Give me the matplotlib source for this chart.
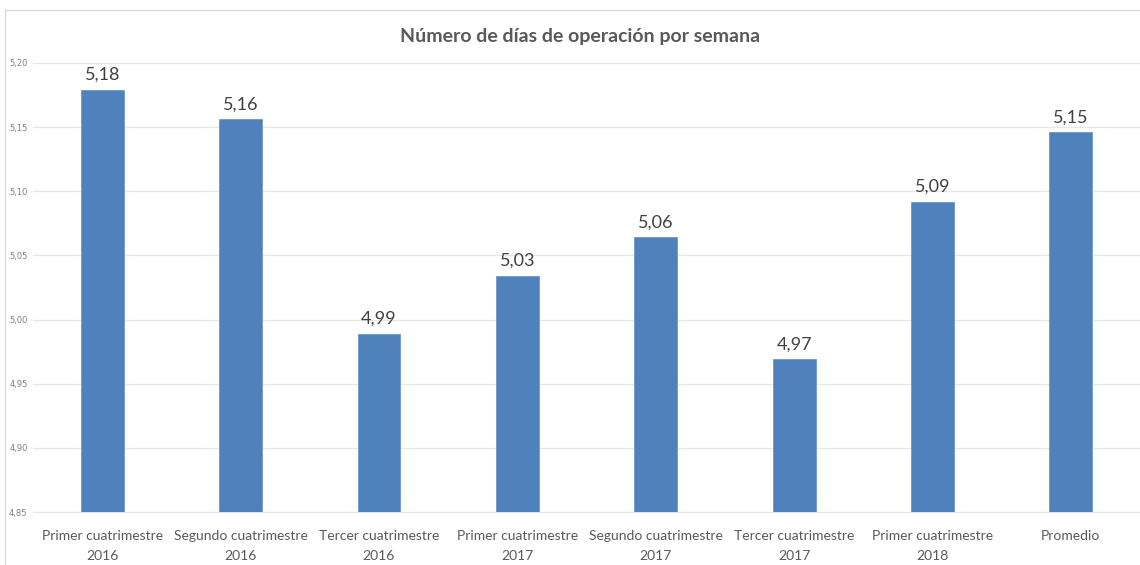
import matplotlib.pyplot as plt
import numpy as np

## Data
categorias = ["Primer cuatrimestre\n2016", "Segundo cuatrimestre\n2016", "Tercer cuatrimestre\n2016",
              "Primer cuatrimestre\n2017", "Segundo cuatrimestre\n2017", "Tercer cuatrimestre\n2017",
              "Primer cuatrimestre\n2018", "Promedio"]
dias = [5.179, 5.156, 4.989, 5.034, 5.064, 4.969, 5.092, 5.146]
y_ticks = [4.85, 4.90, 4.95, 5.00, 5.05, 5.10, 5.15, 5.20]

plt.rcParams['font.family'] = ['Lato', 'DejaVu Sans']

fig = plt.figure(figsize=(11.4, 5.65), dpi=100)
ax = fig.add_axes([0.029, 0.0938, 0.971, 0.7947])

x = np.arange(len(categorias))
bars = ax.bar(x, [d - 4.85 for d in dias], bottom=4.85, width=0.31, color='#4f81bd',
              edgecolor='#6f97cc', linewidth=0.6, zorder=3)

for xi, d in zip(x, dias):
    ax.annotate(f"{d:.2f}".replace('.', ','), (xi, d), xytext=(0, 5), textcoords='offset points',
                ha='center', va='bottom', fontsize=13, color='#404040')

ax.set_xlim(-0.5, len(categorias) - 0.5)
ax.set_ylim(4.85, 5.20)
ax.set_yticks(y_ticks)
ax.set_yticklabels([f"{t:.2f}".replace('.', ',') for t in y_ticks], fontsize=6, color='#7f7f7f',
                   family=['DejaVu Sans'])
ax.set_xticks(x)
ax.set_xticklabels(categorias, fontsize=10, color='#595959', linespacing=1.8)
ax.tick_params(axis='both', length=0)
ax.tick_params(axis='x', pad=13)
ax.tick_params(axis='y', pad=4)
ax.grid(axis='y', color='#e6e6e6', linewidth=0.9, zorder=0)
for s in ['top', 'right', 'left']:
    ax.spines[s].set_visible(False)
ax.spines['bottom'].set_color('#e6e6e6')

fig.text(0.509, 0.935, "Número de días de operación por semana", ha='center', va='center',
         fontsize=14, fontweight='bold', color='#595959')

# chart frame
fig.add_artist(plt.Line2D([0.004, 1.0], [0.982, 0.982], color='#d9d9d9', linewidth=1))
fig.add_artist(plt.Line2D([0.004, 0.004], [0.0, 0.982], color='#d9d9d9', linewidth=1))

plt.savefig('out.png', dpi=100)
